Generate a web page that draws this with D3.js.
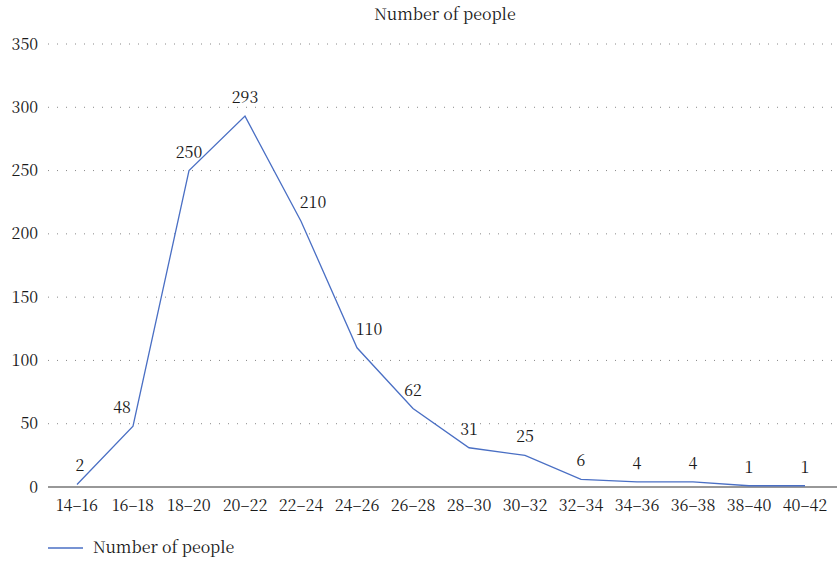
<!DOCTYPE html>
<html><head><meta charset="utf-8">
<script src="https://cdn.jsdelivr.net/npm/d3@7"></script>
<style>body{margin:0;background:#fff}svg{display:block}</style>
</head><body><svg id="c" width="837" height="561"></svg>
<script>
const categories = ["14–16","16–18","18–20","20–22","22–24","24–26","26–28","28–30","30–32","32–34","34–36","36–38","38–40","40–42"];
const values = [2,48,250,293,210,110,62,31,25,6,4,4,1,1];
const yTicks = [0,50,100,150,200,250,300,350];
const seriesName = "Number of people";

const FONT = "'Noto Serif CJK SC', 'Liberation Serif', serif";
const FS = 16;
const svg = d3.select("#c");
const x = d3.scaleBand().domain(categories).range([49, 833]);
const y = d3.scaleLinear().domain([0, 350]).range([487, 44]);
const cx = d => x(d) + x.bandwidth()/2;
const styleText = sel => sel.style("font-family", FONT).style("font-size", FS + "px").attr("fill", "#1a1a1a");

// gridlines
svg.append("g").selectAll("line").data(yTicks.filter(t => t > 0)).join("line")
  .attr("x1", 48).attr("x2", 837).attr("y1", d => y(d)).attr("y2", d => y(d))
  .attr("stroke", "#888").attr("stroke-width", 1).attr("stroke-dasharray", "1,8");

// y axis labels
svg.append("g").selectAll("text").data(yTicks).join("text")
  .attr("x", 38).attr("y", d => y(d)).attr("dy", "0.35em").attr("text-anchor", "end")
  .call(styleText).text(d => d);

// x axis
svg.append("line").attr("x1", 48).attr("x2", 837).attr("y1", y(0)).attr("y2", y(0))
  .attr("stroke", "#333").attr("stroke-width", 1.2);
svg.append("g").selectAll("text").data(categories).join("text")
  .attr("x", d => cx(d)).attr("y", 511).attr("text-anchor", "middle")
  .call(styleText).text(d => d);

// line
const line = d3.line().x((d, i) => cx(categories[i])).y(d => y(d));
svg.append("path").datum(values).attr("d", line)
  .attr("fill", "none").attr("stroke", "#4a6fc4").attr("stroke-width", 1.3);

// value labels
const dxFor = i => {
  const prev = i > 0 ? values[i-1] : values[i];
  const next = i < values.length-1 ? values[i+1] : values[i];
  if (next - values[i] > 100) return -11;
  if (prev - values[i] > 50) return 12;
  if (i === 0) return 3;
  return 0;
};
svg.append("g").selectAll("text").data(values).join("text")
  .attr("x", (d, i) => cx(categories[i]) + dxFor(i))
  .attr("y", d => y(d) - 13).attr("text-anchor", "middle")
  .call(styleText).text(d => d);

// title
svg.append("text").attr("x", 445).attr("y", 20).attr("text-anchor", "middle")
  .call(styleText).text(seriesName);

// legend
svg.append("line").attr("x1", 48).attr("x2", 83).attr("y1", 548).attr("y2", 548)
  .attr("stroke", "#4a6fc4").attr("stroke-width", 1.3);
svg.append("text").attr("x", 93).attr("y", 553).call(styleText).text(seriesName);
</script></body></html>
